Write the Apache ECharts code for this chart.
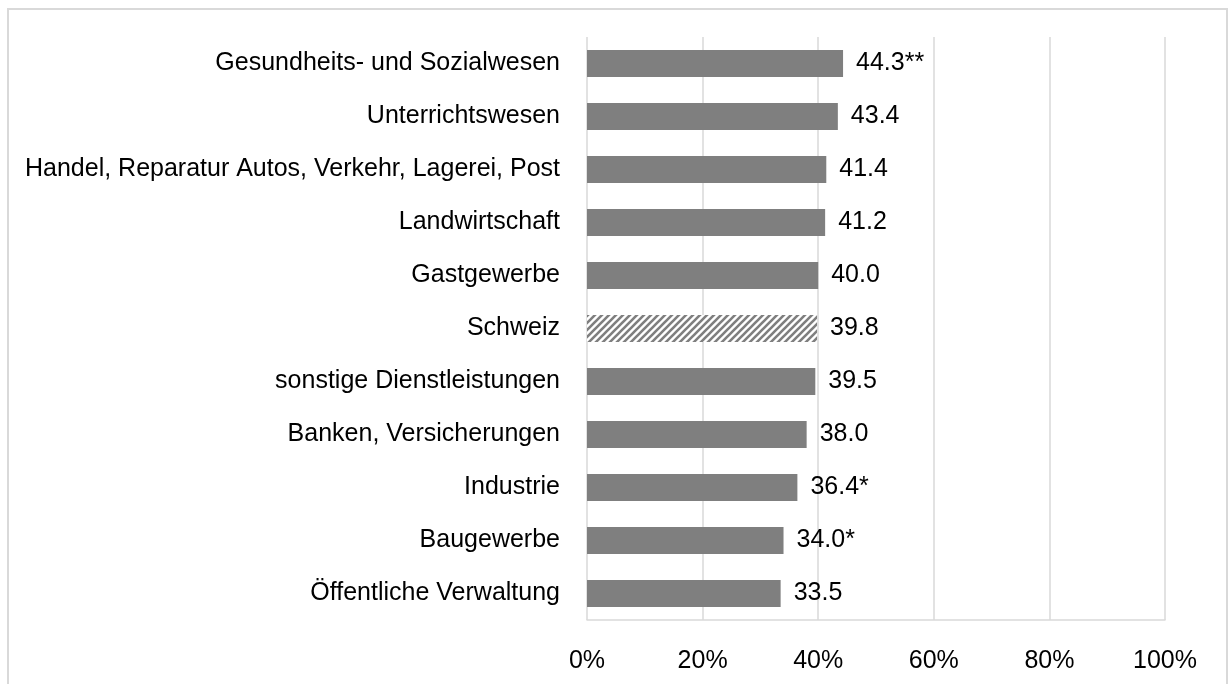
<!DOCTYPE html>
<html>
<head>
<meta charset="utf-8">
<script src="https://cdn.jsdelivr.net/npm/echarts@6/dist/echarts.min.js"></script>
<style>html,body{margin:0;padding:0;background:#fff;}#c{width:1229px;height:684px;}</style>
</head>
<body>
<div id="c"></div>
<script>
const categories = ["Gesundheits- und Sozialwesen","Unterrichtswesen","Handel, Reparatur Autos, Verkehr, Lagerei, Post","Landwirtschaft","Gastgewerbe","Schweiz","sonstige Dienstleistungen","Banken, Versicherungen","Industrie","Baugewerbe","Öffentliche Verwaltung"];
const values = [44.3,43.4,41.4,41.2,40.0,39.8,39.5,38.0,36.4,34.0,33.5];
const labelSuffix = ["**","","","","","","","","*","*",""];
const highlight = "Schweiz";
const xTicks = [0,20,40,60,80,100];

const FONT = "'Liberation Sans Narrow','Arial Narrow','Liberation Sans',Arial,sans-serif";

function hatch(){
  const s = 7;
  const cv = document.createElement('canvas');
  cv.width = s; cv.height = s;
  const ctx = cv.getContext('2d');
  ctx.fillStyle = '#ffffff';
  ctx.fillRect(0,0,s,s);
  ctx.strokeStyle = '#7f7f7f';
  ctx.lineWidth = 2.6;
  ctx.beginPath();
  ctx.moveTo(-1, s+1); ctx.lineTo(s+1, -1);
  ctx.moveTo(-2, 2); ctx.lineTo(2, -2);
  ctx.moveTo(s-2, s+2); ctx.lineTo(s+2, s-2);
  ctx.stroke();
  return cv;
}
const pattern = {image: hatch(), repeat: 'repeat'};

const chart = echarts.init(document.getElementById('c'), null, {renderer:'canvas'});
chart.setOption({
  animation:false,
  backgroundColor:'#ffffff',
  graphic:[{type:'rect',shape:{x:8,y:9,width:1219,height:700},style:{fill:'none',stroke:'#d9d9d9',lineWidth:2},silent:true}],
  grid:{left:587,right:64,top:37,bottom:64,containLabel:false},
  xAxis:{type:'value',min:0,max:100,interval:20,
    axisLine:{show:true,lineStyle:{color:'#d9d9d9',width:1.5}},
    axisTick:{show:false},
    splitLine:{show:true,lineStyle:{color:'#d9d9d9',width:1.5}},
    axisLabel:{margin:29,color:'#000',fontFamily:FONT,fontSize:25,formatter:v=>v+'%'}
  },
  yAxis:{type:'category',data:categories,inverse:true,
    axisLine:{show:false},axisTick:{show:false},
    axisLabel:{margin:27,color:'#000',fontFamily:FONT,fontSize:25}
  },
  series:[{type:'bar',barWidth:27,
    data:values.map((v,i)=>({value:v,itemStyle:{color:categories[i]===highlight?pattern:'#7f7f7f'}})),
    label:{show:true,position:'right',distance:13,color:'#000',fontFamily:FONT,fontSize:25,
      formatter:p=>values[p.dataIndex].toFixed(1)+labelSuffix[p.dataIndex]}
  }]
});
</script>
</body>
</html>
